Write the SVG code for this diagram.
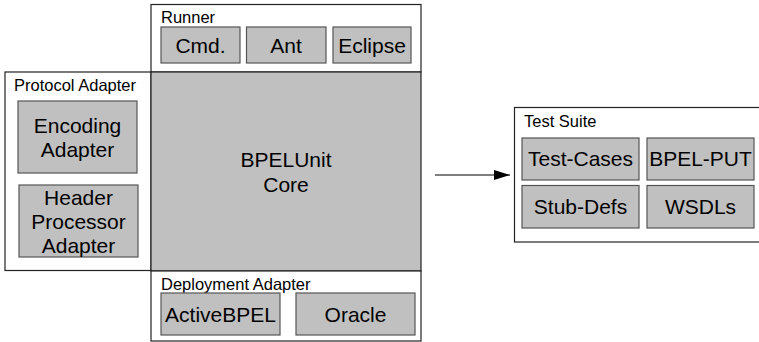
<svg xmlns="http://www.w3.org/2000/svg" width="759" height="342" viewBox="0 0 759 342">
  <defs>
    <style>
      .frame { fill: #ffffff; stroke: #222222; stroke-width: 1.2; }
      .core { fill: #c0c0c0; stroke: #222222; stroke-width: 1.2; }
      .box { fill: #c0c0c0; stroke: #555555; stroke-width: 1.2; }
      .title { font-family: "Liberation Sans", Arial, sans-serif; font-size: 16.5px; fill: #000000; }
      .label { font-family: "Liberation Sans", Arial, sans-serif; font-size: 21px; fill: #000000; text-anchor: middle; }
      .wire { stroke: #000000; stroke-width: 1.2; fill: none; }
    </style>
    <marker id="head" viewBox="0 0 16 10" refX="16" refY="5" markerWidth="16" markerHeight="10" markerUnits="userSpaceOnUse" orient="auto">
      <path d="M0,0 L16,5 L0,10 Z" fill="#000000"/>
    </marker>
  </defs>

  <!-- Runner -->
  <g id="runner">
    <rect class="frame" x="151" y="4.5" width="270" height="67.5"/>
    <text class="title" x="161" y="23">Runner</text>
    <g id="runner-cmd">
      <rect class="box" x="161" y="27" width="79" height="36"/>
      <text class="label" x="200.5" y="53">Cmd.</text>
    </g>
    <g id="runner-ant">
      <rect class="box" x="246.5" y="27" width="79.5" height="36"/>
      <text class="label" x="286" y="53">Ant</text>
    </g>
    <g id="runner-eclipse">
      <rect class="box" x="333" y="27" width="78" height="36"/>
      <text class="label" x="372" y="53">Eclipse</text>
    </g>
  </g>

  <!-- Protocol Adapter -->
  <g id="protocol-adapter">
    <rect class="frame" x="5" y="72" width="146" height="198.5"/>
    <text class="title" x="14" y="90.5">Protocol Adapter</text>
    <g id="encoding-adapter">
      <rect class="box" x="18" y="101" width="119" height="72"/>
      <text class="label" x="77.5" y="133">Encoding</text>
      <text class="label" x="77.5" y="157">Adapter</text>
    </g>
    <g id="header-processor-adapter">
      <rect class="box" x="19" y="185" width="119" height="72"/>
      <text class="label" x="78.5" y="205">Header</text>
      <text class="label" x="78.5" y="229">Processor</text>
      <text class="label" x="78.5" y="252.5">Adapter</text>
    </g>
  </g>

  <!-- BPELUnit Core -->
  <g id="core">
    <rect class="core" x="151" y="72" width="270" height="199"/>
    <text class="label" x="286" y="167">BPELUnit</text>
    <text class="label" x="286" y="192">Core</text>
  </g>

  <!-- Deployment Adapter -->
  <g id="deployment-adapter">
    <rect class="frame" x="151" y="271" width="270" height="70"/>
    <text class="title" x="161" y="290">Deployment Adapter</text>
    <g id="deploy-activebpel">
      <rect class="box" x="161" y="293" width="119" height="42"/>
      <text class="label" x="220.5" y="322">ActiveBPEL</text>
    </g>
    <g id="deploy-oracle">
      <rect class="box" x="296" y="293" width="119" height="42"/>
      <text class="label" x="355.5" y="322">Oracle</text>
    </g>
  </g>

  <!-- Test Suite -->
  <g id="test-suite">
    <rect class="frame" x="514.5" y="107.5" width="250" height="134.5"/>
    <text class="title" x="524" y="127">Test Suite</text>
    <g id="suite-test-cases">
      <rect class="box" x="522" y="138" width="117" height="42"/>
      <text class="label" x="580.5" y="166">Test-Cases</text>
    </g>
    <g id="suite-bpel-put">
      <rect class="box" x="647" y="138" width="107" height="42"/>
      <text class="label" x="700.5" y="166">BPEL-PUT</text>
    </g>
    <g id="suite-stub-defs">
      <rect class="box" x="522" y="185.5" width="117" height="42.5"/>
      <text class="label" x="580.5" y="213.5">Stub-Defs</text>
    </g>
    <g id="suite-wsdls">
      <rect class="box" x="647" y="185.5" width="107" height="42.5"/>
      <text class="label" x="700.5" y="213.5">WSDLs</text>
    </g>
  </g>

  <!-- Connectors -->
  <g id="connectors">
    <line class="wire" x1="435" y1="175" x2="510" y2="175" marker-end="url(#head)"/>
  </g>
</svg>
